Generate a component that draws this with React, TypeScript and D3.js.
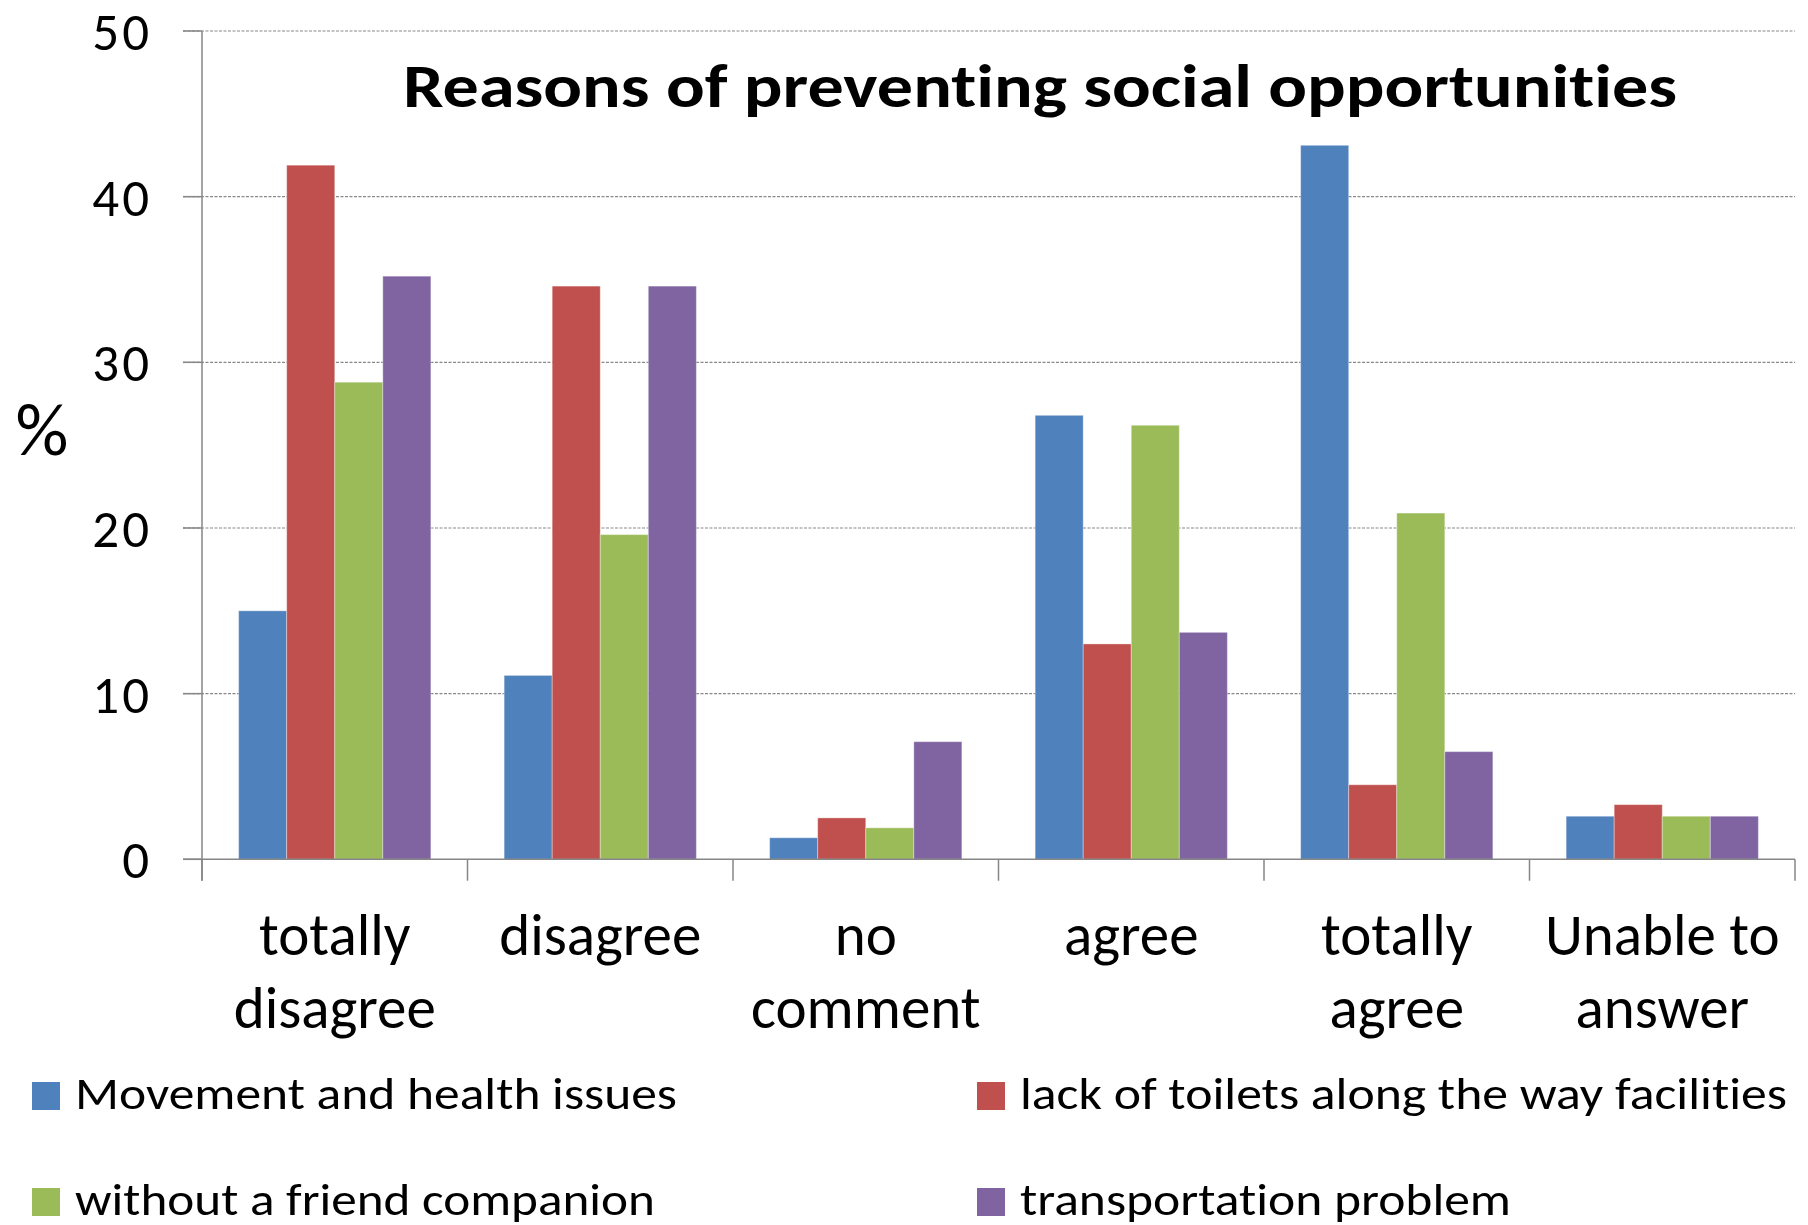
import React from "react";
import * as d3 from "d3";

const categories = [
  ["totally", "disagree"],
  ["disagree"],
  ["no", "comment"],
  ["agree"],
  ["totally", "agree"],
  ["Unable to", "answer"],
];
const seriesNames = [
  "Movement and health issues",
  "lack of toilets along the way facilities",
  "without a friend companion",
  "transportation problem",
];
const movementHealth = [15.0, 11.1, 1.3, 26.8, 43.1, 2.6];
const lackToilets = [41.9, 34.6, 2.5, 13.0, 4.5, 3.3];
const withoutFriend = [28.8, 19.6, 1.9, 26.2, 20.9, 2.6];
const transportation = [35.2, 34.6, 7.1, 13.7, 6.5, 2.6];
const yTicks = [0, 10, 20, 30, 40, 50];
const colors = ["#4F81BD", "#C0504D", "#9BBB59", "#8064A2"];
const title = "Reasons of preventing social opportunities";

const W = 1808;
const H = 1225;
const FONT = "Carlito, Lato, 'Open Sans', sans-serif";
const legendWidths = [602, 767, 580, 491];

export default function App() {
  const series = [movementHealth, lackToilets, withoutFriend, transportation];
  const left = 202;
  const right = 1795;
  const y = d3.scaleLinear().domain([0, 50]).range([859.3, 31]);
  const x0 = d3
    .scaleBand<number>()
    .domain(d3.range(categories.length))
    .range([left, right])
    .paddingInner(0)
    .paddingOuter(0);
  const groupPad = x0.bandwidth() * 0.138;
  const x1 = d3
    .scaleBand<number>()
    .domain(d3.range(series.length))
    .range([groupPad, x0.bandwidth() - groupPad]);

  const axisColor = "#868686";
  const gridColor = "#8a8a8a";

  return (
    <svg
      width={W}
      height={H}
      style={{ position: "absolute", left: 0, top: 0, background: "#fff", fontVariantLigatures: "none" }}
    >
      {/* gridlines */}
      {yTicks
        .filter((t) => t > 0)
        .map((t) => (
          <line
            key={"g" + t}
            x1={183}
            x2={right}
            y1={y(t)}
            y2={y(t)}
            stroke={gridColor}
            strokeWidth={1.2}
            strokeDasharray="3,1.5"
          />
        ))}
      {/* y tick marks */}
      {yTicks.map((t) => (
        <line
          key={"yt" + t}
          x1={183}
          x2={left}
          y1={y(t)}
          y2={y(t)}
          stroke={axisColor}
          strokeWidth={1.5}
        />
      ))}
      {/* bars */}
      {series.map((vals, si) =>
        vals.map((v, ci) => (
          <rect
            key={`b${si}-${ci}`}
            x={(x0(ci) as number) + (x1(si) as number)}
            y={y(v)}
            width={x1.bandwidth()}
            height={y(0) - y(v)}
            fill={colors[si]}
            stroke="#ffffff"
            strokeOpacity={0.35}
            strokeWidth={1}
          />
        ))
      )}
      {/* axes */}
      <line x1={left} x2={left} y1={y(50)} y2={880.7} stroke={axisColor} strokeWidth={1.5} />
      <line x1={183} x2={right} y1={y(0)} y2={y(0)} stroke={axisColor} strokeWidth={1.5} />
      {d3.range(categories.length + 1).map((i) => {
        const xx = left + i * x0.bandwidth();
        return (
          <line
            key={"xt" + i}
            x1={xx}
            x2={xx}
            y1={y(0)}
            y2={880.7}
            stroke={axisColor}
            strokeWidth={1.5}
          />
        );
      })}
      {/* y tick labels */}
      {yTicks.map((t) => (
        <text
          key={"yl" + t}
          x={152}
          y={y(t)}
          dy="0.36em"
          textAnchor="end"
          fontFamily={FONT}
          fontSize={53}
          letterSpacing={3}
          fill="#000"
        >
          {t}
        </text>
      ))}
      {/* y axis title */}
      <text x={42} y={428} dy="0.36em" textAnchor="middle" fontFamily={FONT} fontSize={74} fill="#000">
        %
      </text>
      {/* category labels */}
      {categories.map((lines, ci) => {
        const cx = (x0(ci) as number) + x0.bandwidth() / 2;
        return (
          <text key={"c" + ci} textAnchor="middle" fontFamily={FONT} fontSize={59} fill="#000">
            {lines.map((ln, li) => (
              <tspan key={li} x={cx} y={955 + li * 73}>
                {ln}
              </tspan>
            ))}
          </text>
        );
      })}
      {/* title */}
      <text
        x={1040}
        y={107}
        textAnchor="middle"
        fontFamily={FONT}
        fontWeight="bold"
        fontSize={61}
        fill="#000"
        textLength={1274}
        lengthAdjust="spacingAndGlyphs"
      >
        {title}
      </text>
      {/* legend */}
      {seriesNames.map((name, si) => {
        const col = si % 2;
        const row = Math.floor(si / 2);
        const sx = col === 0 ? 32 : 977;
        const sy = 1082 + row * 106;
        return (
          <g key={"l" + si}>
            <rect x={sx} y={sy} width={28} height={28} fill={colors[si]} />
            <text
              x={sx + 43}
              y={sy + 27}
              fontFamily={FONT}
              fontSize={46}
              fill="#000"
              textLength={legendWidths[si]}
              lengthAdjust="spacingAndGlyphs"
            >
              {name}
            </text>
          </g>
        );
      })}
    </svg>
  );
}
